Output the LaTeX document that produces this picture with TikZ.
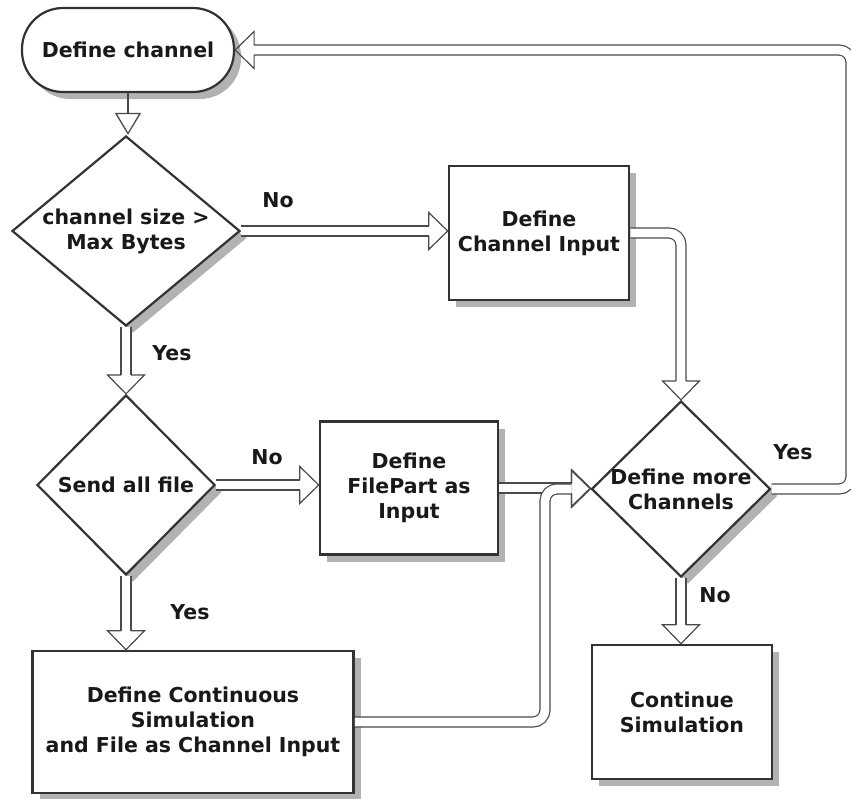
\documentclass[tikz,border=0pt]{standalone}
\usepackage{fontspec}
\setmainfont{DejaVu Sans}
\usetikzlibrary{shapes.geometric, shadows, arrows.meta}

\definecolor{edge}{HTML}{333333}
\definecolor{linegray}{HTML}{4A4A4A}
\definecolor{shadowgray}{HTML}{B2B2B2}

% open "fat" arrow head that receives a double-line shaft;
% it keeps its own thin stroke whatever the width of the shaft
\pgfdeclarearrow{
  name = FatHead,
  setup code = {
    \pgfarrowssettipend{0pt}
    \pgfarrowssetlineend{-19pt}
    \pgfarrowssetbackend{-19pt}
  },
  drawing code = {
    \pgfsetdash{}{0pt}
    \pgfsetmiterjoin
    \pgfsetlinewidth{1.2pt}
    \pgfsetstrokecolor{linegray}
    \pgfpathmoveto{\pgfqpoint{-19pt}{5pt}}
    \pgfpathlineto{\pgfqpoint{-19pt}{18.5pt}}
    \pgfpathlineto{\pgfqpoint{0pt}{0pt}}
    \pgfpathlineto{\pgfqpoint{-19pt}{-18.5pt}}
    \pgfpathlineto{\pgfqpoint{-19pt}{-5pt}}
    \pgfusepathqstroke
  }
}

\tikzset{
  txt/.style={font=\bfseries\fontsize{20.5}{25}\selectfont, text=black!90},
  shade/.style={drop shadow={shadow xshift=7pt, shadow yshift=-7pt, fill=shadowgray, opacity=1}},
  procbox/.style={txt, shade, draw=edge, line width=2.6pt, fill=white, align=center, inner sep=0pt},
  decision/.style={txt, shade, diamond, draw=edge, line width=2.2pt, fill=white, align=center, inner sep=0pt, text width=5pt},
  terminal/.style={txt, shade, draw=edge, line width=2.2pt, fill=white, rounded corners=41pt, align=center},
  fat/.style={draw=linegray, line width=1.2pt, double=white, double distance=8.8pt, -{FatHead}, rounded corners=12pt},
  thin/.style={draw=linegray, line width=1.3pt, -{Triangle[open, length=22pt, width=26pt, fill=white]}},
  lbl/.style={txt}
}

\begin{document}
\begin{tikzpicture}[x=1pt, y=-1pt]
  \useasboundingbox (0,0) rectangle (851,798);

  % shapes
  \node[terminal, minimum width=212pt, minimum height=84pt] (T) at (128,50) {Define channel};
  \node[decision, minimum width=228pt, minimum height=190pt] (D1) at (126,231) {};
  \node[txt, align=center] (D1t) at (D1) {channel size >\\Max Bytes};
  \node[procbox, minimum width=180pt, minimum height=134pt] (B1) at (539,233) {Define\\Channel Input};
  \node[decision, minimum width=178pt, minimum height=180pt] (D2) at (126,485) {};
  \node[txt, align=center] (D2t) at (D2) {Send all file};
  \node[procbox, minimum width=178pt, minimum height=133pt] (B2) at (409,488) {Define\\FilePart as\\Input};
  \node[decision, minimum width=179pt, minimum height=176pt] (D3) at (681,489) {};
  \node[txt, align=center] (D3t) at (D3) {Define more\\Channels};
  \node[procbox, minimum width=321pt, minimum height=142pt] (B3) at (193,722) {Define Continuous\\Simulation\\and File as Channel Input};
  \node[procbox, minimum width=180pt, minimum height=134pt] (B4) at (682,712) {Continue\\Simulation};

  \coordinate (loopx) at (851,0);
  \coordinate (risex) at (545,0);

  % connectors
  \draw[thin] (T.south) -- (T.south |- D1.north);
  \draw[fat] (D1.east) -- (D1.east -| B1.west);
  \draw[fat] (D1.south) -- (D1.south |- D2.north);
  \draw[fat] (B1.east) -| (D3.north);
  \draw[fat] (D2.east) -- (D2.east -| B2.west);
  \draw[fat] (D2.south) -- (D2.south |- B3.north);
  \draw[fat] (B2.east) -- (B2.east -| D3.west);
  \draw[fat] (B3.east) -| (risex |- D3.west) -- (D3.west);
  \draw[fat] (D3.south) -- (D3.south |- B4.north);
  \draw[fat] (D3.east) -| (loopx |- T.east) -- (T.east);

  % branch labels
  \node[lbl] (no1) at (278,200) {No};
  \node[lbl] (yes1) at (172,353) {Yes};
  \node[lbl] (no2) at (267,457) {No};
  \node[lbl] (yes2) at (190,612) {Yes};
  \node[lbl] (yes3) at (793,452) {Yes};
  \node[lbl] (no3) at (715,595) {No};
\end{tikzpicture}
\end{document}
